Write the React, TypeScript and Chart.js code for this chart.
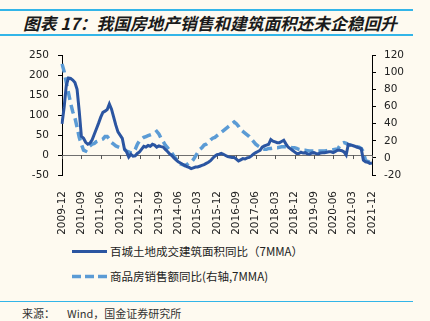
import React, { useEffect, useRef } from "react";
import { Chart, registerables } from "chart.js";

Chart.register(...registerables);

// Monthly categories 2009-12 .. 2021-12
const months: string[] = [];
for (let y = 2009, m = 12; y < 2021 || (y === 2021 && m <= 12); ) {
  months.push(`${y}-${String(m).padStart(2, "0")}`);
  m++;
  if (m > 12) { m = 1; y++; }
}

// 百城土地成交建筑面积同比（7MMA），左轴 %
const landArea: number[] = [
  78, 120, 175, 193, 192, 188, 182, 165, 110, 47,
  42, 32, 27, 30, 38, 52, 66, 80, 95, 107,
  110, 114, 128, 115, 95, 75, 58, 50, 42, 15,
  8, -5, 2, -3, -2, 4, 8, 15, 22, 20,
  24, 22, 27, 25, 20, 23, 21, 20, 14, 9,
  3, -1, -7, -12, -17, -20, -23, -26, -29, -31,
  -34, -32, -30, -30, -28, -26, -24, -21, -18, -14,
  -8, -3, 1, 2, 4, 2, -1, -4, -5, -6,
  -6, -10, -15, -12, -9, -10, -7, -6, -2, 3,
  6, 9, 12, 20, 23, 25, 27, 39, 35, 33,
  31, 31, 34, 37, 28, 20, 16, 12, 8, 4,
  4, 7, 5, 6, 3, 2, 5, 6, 4, 3,
  5, 6, 6, 7, 8, 8, 6, 9, 12, 12,
  11, 8, 0, 27, 25, 24, 22, 20, 18, 16,
  -13, -17, -18, -21, -20,
];

// 商品房销售额同比（右轴，7MMA）%
const salesAmount: number[] = [
  110, 101, 88, 76, 64, 54, 47, 36, 24, 16,
  9, 8, 12, 14, 16, 17, 19, 20, 21, 22,
  25, 25, 22, 18, 16, 14, 13, 12, 11, 10,
  8, 7, 6, 6, 10, 16, 20, 22, 24, 25,
  26, 27, 28, 29, 31, 28, 23, 19, 15, 12,
  9, 6, 2, -1, -4, -7, -8, -9, -8, -6,
  -5, -2, 2, 6, 10, 12, 15, 16, 18, 21,
  23, 24, 26, 28, 30, 32, 34, 36, 38, 40,
  42, 40, 37, 33, 31, 29, 27, 25, 22, 19,
  16, 14, 12.5, 11, 10, 10, 11, 11, 11.5, 12,
  12, 12.5, 13, 13, 13, 12.5, 12.5, 12, 12, 11,
  10, 9.5, 9, 9, 8.5, 8, 8, 8, 8, 8,
  8, 8, 8, 8.5, 9, 9, 9.5, 10, 10, 14,
  17, 18, 17, 15, 15, 14.5, 14, 13, 12.5, 11,
  7, -3, -4, -5, -6,
];

const leftTicks = { min: -50, max: 250, step: 50 };
const rightTicks = { min: -20, max: 120, step: 20 };
const labelEvery = 9;

const SOLID = "#2B55A1";
const DASH = "#5B9BD5";
const BG = "#FEFAF0";
const CYAN = "#33B5E8";

const zeroTicks = {
  id: "zeroTicks",
  beforeDatasetsDraw(chart: any) {
    const xs = chart.scales.x;
    const yl = chart.scales.y;
    const y0 = yl.getPixelForValue(0);
    const ctx = chart.ctx;
    ctx.save();
    ctx.strokeStyle = "#555";
    ctx.lineWidth = 1;
    for (let i = 0; i < months.length; i += labelEvery) {
      const x = Math.round(xs.getPixelForValue(i)) + 0.5;
      ctx.beginPath();
      ctx.moveTo(x, y0);
      ctx.lineTo(x, y0 + 4);
      ctx.stroke();
    }
    ctx.restore();
  },
};

export default function App() {
  const ref = useRef<HTMLCanvasElement | null>(null);
  useEffect(() => {
    if (!ref.current) return;
    const tickFont = { family: "'DejaVu Sans', sans-serif", size: 10.5 };
    const chart = new Chart(ref.current, {
      type: "line",
      data: {
        labels: months,
        datasets: [
          {
            label: "百城土地成交建筑面积同比（7MMA）",
            data: landArea,
            yAxisID: "y",
            borderColor: SOLID,
            backgroundColor: SOLID,
            borderWidth: 3,
            pointRadius: 0,
            tension: 0,
          },
          {
            label: "商品房销售额同比(右轴,7MMA)",
            data: salesAmount,
            yAxisID: "y1",
            borderColor: DASH,
            backgroundColor: DASH,
            borderWidth: 3.5,
            borderDash: [9, 5],
            pointRadius: 0,
            tension: 0,
          },
        ],
      },
      options: {
        animation: false,
        responsive: false,
        devicePixelRatio: 1,
        layout: { padding: { top: 13, left: 0, right: 0, bottom: 0 } },
        plugins: { legend: { display: false }, tooltip: { enabled: false } },
        scales: {
          x: {
            type: "category",
            offset: false,
            grid: { display: false },
            border: { display: false },
            afterFit(scale: any) { scale.height = 60; },
            ticks: {
              autoSkip: false,
              minRotation: 90,
              maxRotation: 90,
              padding: 8,
              color: "#222",
              font: tickFont,
              callback: (_v: any, i: number) => (i % labelEvery === 0 ? months[i] : ""),
            },
          },
          y: {
            position: "left",
            min: leftTicks.min,
            max: leftTicks.max,
            afterFit(scale: any) { scale.width = 62; },
            ticks: { stepSize: leftTicks.step, color: "#222", font: tickFont, padding: 9 },
            border: { display: true, color: "#000", width: 1 },
            grid: {
              drawOnChartArea: true,
              tickLength: 4,
              tickColor: "#000",
              color: (c: any) => (c.tick && c.tick.value === 0 ? "#6f6f6f" : "rgba(0,0,0,0)"),
            },
          },
          y1: {
            position: "right",
            min: rightTicks.min,
            max: rightTicks.max,
            afterFit(scale: any) { scale.width = 58; },
            ticks: { stepSize: rightTicks.step, color: "#222", font: tickFont, padding: 8 },
            border: { display: true, color: "#000", width: 1 },
            grid: { drawOnChartArea: false, tickLength: 4, tickColor: "#000" },
          },
        },
      },
      plugins: [zeroTicks],
    } as any);
    return () => chart.destroy();
  }, []);

  const cjk = "'Noto Sans CJK SC', 'Noto Sans', sans-serif";
  return (
    <div style={{ position: "fixed", left: 0, top: 0, width: 430, height: 321, background: BG, overflow: "hidden", fontFamily: cjk }}>
      <div style={{ position: "absolute", left: 0, top: 9, width: 413, height: 2, background: CYAN }} />
      <div style={{ position: "absolute", left: 23, top: 12, fontSize: 16.7, fontWeight: "bold", fontStyle: "italic", color: "#1a1a1a", lineHeight: "22px", whiteSpace: "nowrap" }}>
        图表 17：我国房地产销售和建筑面积还未企稳回升
      </div>
      <div style={{ position: "absolute", left: 0, top: 34, width: 413, height: 2, background: CYAN }} />
      <canvas ref={ref} width={430} height={195} style={{ position: "absolute", left: 0, top: 40, width: 430, height: 195 }} />
      <svg style={{ position: "absolute", left: 0, top: 240 }} width={120} height={50}>
        <line x1={72} y1={11.5} x2={107} y2={11.5} stroke={SOLID} strokeWidth={3} />
        <line x1={72} y1={36.5} x2={107} y2={36.5} stroke={DASH} strokeWidth={3.5} strokeDasharray="9 4" />
      </svg>
      <div style={{ position: "absolute", left: 110, top: 243, fontSize: 11.5, lineHeight: "17px", color: "#222", whiteSpace: "nowrap" }}>
        百城土地成交建筑面积同比（7MMA）
      </div>
      <div style={{ position: "absolute", left: 110, top: 268, fontSize: 11.5, lineHeight: "17px", color: "#222", whiteSpace: "nowrap" }}>
        商品房销售额同比(右轴,7MMA)
      </div>
      <div style={{ position: "absolute", left: 0, top: 301, width: 413, height: 1, background: CYAN }} />
      <div style={{ position: "absolute", left: 22, top: 305, fontSize: 11, lineHeight: "17px", color: "#333", whiteSpace: "nowrap" }}>
        来源：<span style={{ marginLeft: 12 }}>Wind，国金证券研究所</span>
      </div>
    </div>
  );
}
